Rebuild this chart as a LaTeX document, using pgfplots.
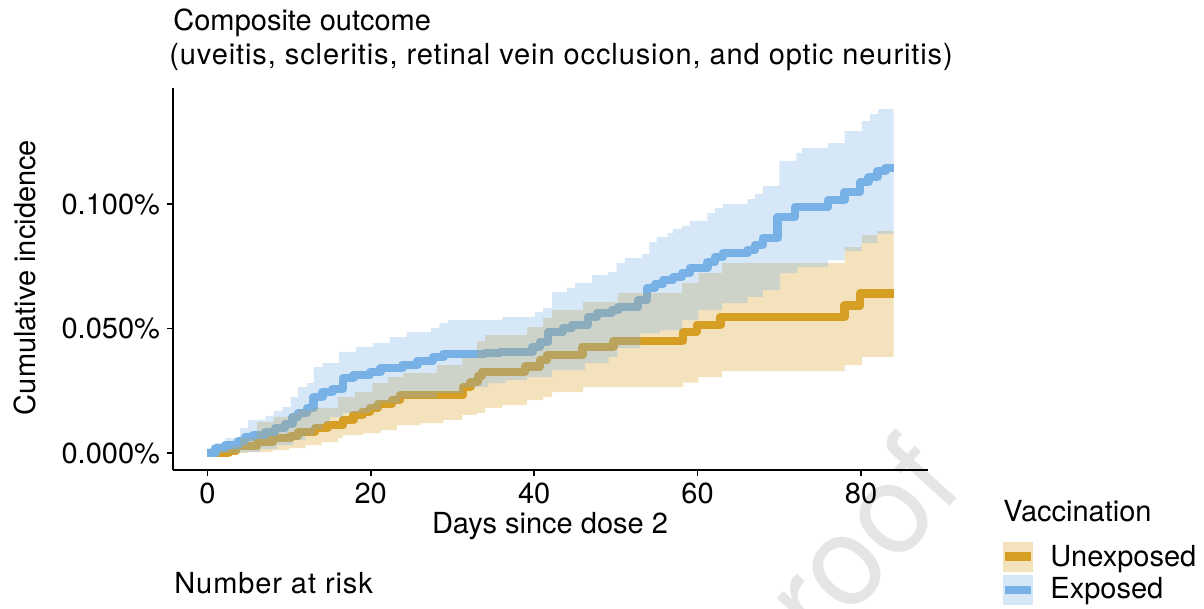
\documentclass[border=0pt]{standalone}
\usepackage{fontspec}
\setmainfont{TeX Gyre Heros}
\usepackage{pgfplots}
\pgfplotsset{compat=1.18}
\usepgfplotslibrary{fillbetween}
\definecolor{cU}{HTML}{D69E22}
\definecolor{cE}{HTML}{78B1E6}
\newcommand{\fs}{\fontsize{14.5}{17.4}\selectfont}
\newcommand{\wide}{\addfontfeature{LetterSpace=3.1}}
\begin{document}
\begin{tikzpicture}
% page frame
\path (0,0) rectangle (602pt,-304.5pt);
\begin{axis}[
  set layers,
  at={(86.5pt,-235pt)}, anchor=south west,
  width=377.5pt, height=191pt, scale only axis,
  xmin=-4.2, xmax=88.2, ymin=-0.0068, ymax=0.1466,
  axis lines*=left,
  axis line style={-, line width=0.8pt},
  tick align=outside, major tick length=3pt,
  tick style={line width=0.8pt, black},
  xtick={0,20,40,60,80}, xticklabels={0,20,40,60,80},
  ytick={0,0.05,0.1}, yticklabels={0.000\%,0.050\%,0.100\%},
  tick label style={font=\fs},
  clip=false,
]
% watermark, under everything
\begin{pgfonlayer}{axis background}
\node[overlay, rotate=48, text=black!10, font=\fontsize{63}{63}\selectfont, inner sep=0] at (axis cs:79.8,-0.0345) {roof};
\end{pgfonlayer}
% survival curves (drawn under the bands)
\addplot[on layer=axis background, const plot, cU, line width=4.2pt, line join=round] coordinates {
(0,0) (2.6,0.0008) (3.5,0.0028) (6.1,0.0045) (8.0,0.0060) (10.2,0.0068) (11.1,0.0085) (13.2,0.0100) (14.7,0.0112) (16.6,0.0133) (17.9,0.0153) (19.0,0.0166) (19.9,0.0181) (20.9,0.0197) (22.6,0.0213) (23.6,0.0233) (31.3,0.0266) (32.2,0.0286) (33.1,0.0309) (33.6,0.0326) (38.9,0.0347) (40.7,0.0373) (41.6,0.0394) (45.9,0.0427) (49.7,0.0450) (58.2,0.0487) (59.9,0.0514) (62.8,0.0547) (78.0,0.0592) (79.9,0.0641) (84.0,0.0641)};
\addplot[on layer=axis background, const plot, cE, line width=4.2pt, line join=round] coordinates {
(0,0) (1.0,0.0020) (2.2,0.0032) (3.8,0.0048) (4.6,0.0064) (5.6,0.0072) (7.1,0.0084) (8.3,0.0100) (9.5,0.0116) (10.4,0.0145) (11.1,0.0161) (12.2,0.0181) (13.0,0.0225) (14.1,0.0245) (15.3,0.0257) (16.6,0.0301) (17.9,0.0313) (19.9,0.0325) (21.2,0.0341) (23.9,0.0353) (25.7,0.0369) (27.6,0.0386) (28.9,0.0398) (34.0,0.0402) (35.8,0.0406) (39.8,0.0426) (40.7,0.0446) (41.7,0.0486) (43.5,0.0502) (44.6,0.0514) (46.6,0.0546) (47.7,0.0562) (49.5,0.0574) (50.3,0.0586) (52.7,0.0614) (53.8,0.0663) (54.8,0.0679) (55.8,0.0695) (57.0,0.0707) (58.1,0.0723) (59.1,0.0743) (61.2,0.0767) (62.1,0.0787) (63.1,0.0803) (66.1,0.0815) (67.0,0.0835) (68.0,0.0863) (69.8,0.0948) (71.9,0.0988) (75.96,0.1016) (78.0,0.1048) (79.9,0.1088) (80.9,0.1108) (82.0,0.1133) (83.0,0.1145) (84.0,0.1145)};
% confidence bands
\addplot[name path=uhi, const plot, draw=none] coordinates {
(0,0) (1.5,0.0012) (3.0,0.0030) (4.0,0.0060) (6.1,0.0124) (8.1,0.0145) (10.2,0.0161) (11.1,0.0173) (13.0,0.0181) (16.0,0.0225) (18.1,0.0245) (20.2,0.0281) (22.1,0.0305) (24.0,0.0321) (28.1,0.0353) (31.2,0.0382) (33.0,0.0450) (34.0,0.0474) (39.1,0.0506) (41.1,0.0542) (42.2,0.0574) (46.0,0.0606) (50.2,0.0643) (58.1,0.0683) (60.1,0.0723) (63.0,0.0763) (78.0,0.0827) (80.1,0.0875) (82.0,0.0892) (84.0,0.0892)};
\addplot[name path=ulo, const plot, draw=none] coordinates {
(0,0) (5.0,0.0004) (8.0,0.0012) (10.0,0.0020) (12.0,0.0032) (14.0,0.0044) (16.0,0.0060) (16.6,0.0072) (19.1,0.0080) (21.2,0.0092) (23.2,0.0112) (26.1,0.0120) (28.9,0.0133) (31.2,0.0153) (33.0,0.0161) (34.0,0.0181) (36.1,0.0193) (39.1,0.0213) (41.1,0.0225) (42.2,0.0245) (46.0,0.0265) (58.2,0.0283) (60.1,0.0305) (63.0,0.0329) (78.0,0.0353) (80.1,0.0386) (84.0,0.0386)};
\addplot[fill=cU, fill opacity=0.3, draw=none] fill between[of=uhi and ulo];
\addplot[name path=ehi, const plot, draw=none] coordinates {
(0,0.0020) (1.0,0.0040) (2.2,0.0060) (4.0,0.0100) (5.0,0.0133) (7.1,0.0149) (8.1,0.0169) (9.2,0.0185) (10.2,0.0225) (11.1,0.0265) (12.2,0.0281) (13.0,0.0345) (14.1,0.0361) (16.1,0.0406) (18.2,0.0426) (20.3,0.0442) (22.3,0.0466) (24.4,0.0486) (27.4,0.0502) (28.4,0.0522) (29.4,0.0534) (36.1,0.0546) (40.1,0.0566) (41.1,0.0582) (42.2,0.0646) (44.0,0.0663) (45.0,0.0683) (47.1,0.0715) (49.0,0.0727) (50.1,0.0763) (51.1,0.0783) (53.2,0.0799) (54.1,0.0847) (55.0,0.0867) (56.3,0.0883) (57.0,0.0900) (58.1,0.0912) (59.1,0.0932) (61.2,0.0964) (62.1,0.0984) (63.1,0.1000) (66.1,0.1020) (67.0,0.1040) (68.0,0.1072) (70.0,0.1173) (72.1,0.1205) (72.8,0.1225) (75.96,0.1245) (78.0,0.1293) (80.1,0.1333) (81.1,0.1361) (82.1,0.1381) (84.0,0.1381)};
\addplot[name path=elo, const plot, draw=none] coordinates {
(0,0) (4.0,0.0004) (6.5,0.0016) (8.5,0.0032) (10.5,0.0052) (12.0,0.0072) (13.2,0.0096) (14.1,0.0120) (15.0,0.0145) (16.6,0.0161) (19.9,0.0173) (21.2,0.0201) (23.6,0.0221) (28.1,0.0241) (31.3,0.0265) (34.4,0.0281) (36.5,0.0293) (39.1,0.0305) (42.2,0.0333) (46.2,0.0361) (49.1,0.0386) (50.2,0.0422) (53.0,0.0482) (55.4,0.0494) (58.1,0.0534) (60.1,0.0574) (63.0,0.0602) (66.1,0.0627) (68.0,0.0655) (70.1,0.0723) (72.2,0.0747) (75.96,0.0775) (78.0,0.0811) (80.1,0.0843) (82.0,0.0880) (84.0,0.0880)};
\addplot[fill=cE, fill opacity=0.3, draw=none] fill between[of=ehi and elo];
\end{axis}
% titles and labels
\node[anchor=base west, inner sep=0, font=\fs] at (86.5pt,-15.5pt) {Composite outcome};
\node[anchor=base west, inner sep=0, font=\fs\wide] at (84.5pt,-32.5pt) {(uveitis, scleritis, retinal vein occlusion, and optic neuritis)};
\node[rotate=90, anchor=base, inner sep=0, font=\fs] at (17.5pt,-138.75pt) {Cumulative incidence};
\node[anchor=base, inner sep=0, font=\fs] at (275pt,-266.7pt) {Days since dose 2};
\node[anchor=base west, inner sep=0, font=\fs\wide] at (87pt,-296.5pt) {Number at risk};
% legend
\node[anchor=base west, inner sep=0, font=\fs] at (501.5pt,-260.8pt) {Vaccination};
\fill[cU, opacity=0.3] (501.5pt,-270.8pt) rectangle (516.5pt,-285.8pt);
\draw[cU, line width=4.2pt] (502.3pt,-278.3pt) -- (515.7pt,-278.3pt);
\fill[cE, opacity=0.3] (501.5pt,-287.5pt) rectangle (516.5pt,-302.5pt);
\draw[cE, line width=4.2pt] (502.3pt,-295pt) -- (515.7pt,-295pt);
\node[anchor=base west, inner sep=0, font=\fs] at (525pt,-283.3pt) {Unexposed};
\node[anchor=base west, inner sep=0, font=\fs] at (525pt,-299pt) {Exposed};
\end{tikzpicture}
\end{document}
